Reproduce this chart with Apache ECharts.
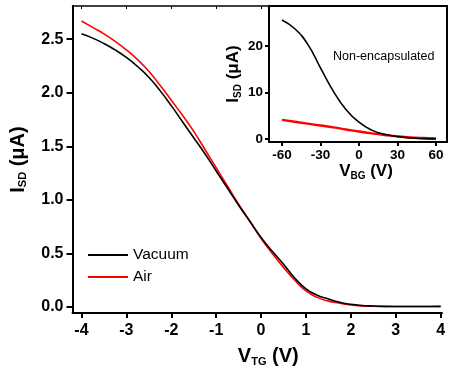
<!DOCTYPE html>
<html>
<head>
<meta charset="utf-8">
<script src="https://cdn.jsdelivr.net/npm/echarts@6/dist/echarts.min.js"></script>
<style>html,body{margin:0;padding:0;background:#fff;}#c{width:449px;height:372px;}</style>
</head>
<body>
<div id="c"></div>
<script>
// Main panel: top-gate sweep
var vtg = [-4.00,-3.75,-3.50,-3.25,-3.00,-2.75,-2.50,-2.25,-2.00,-1.75,-1.50,-1.25,-1.00,-0.75,-0.50,-0.25,0.00,0.25,0.50,0.75,1.00,1.25,1.50,1.75,2.00,2.25,2.50,2.75,3.00,3.25,3.50,3.75,4.00];
var vacuum = [2.55,2.51,2.46,2.40,2.33,2.245,2.145,2.02,1.88,1.73,1.58,1.43,1.27,1.11,0.95,0.80,0.65,0.52,0.40,0.27,0.17,0.11,0.075,0.045,0.025,0.014,0.009,0.006,0.005,0.005,0.005,0.005,0.006];
var air = [2.67,2.61,2.55,2.48,2.40,2.31,2.20,2.07,1.93,1.79,1.64,1.47,1.30,1.13,0.96,0.80,0.64,0.50,0.37,0.25,0.15,0.09,0.055,0.035,0.018,0.010,0.007,0.005,0.004,0.004,0.004,0.004,0.005];
var mainXTicks = [-4,-3,-2,-1,0,1,2,3,4];
var mainYTicks = [0,0.5,1.0,1.5,2.0,2.5];
// Inset: back-gate sweep, non-encapsulated
var vbg = [-60,-50,-40,-30,-20,-10,0,10,20,30,40,50,60];
var insetBlack = [25.6,23.7,20.4,15.3,10.3,6.3,3.6,1.9,1.0,0.52,0.22,0.08,0.02];
var insetRed = [4.1,3.7,3.3,2.9,2.5,2.05,1.6,1.2,0.85,0.55,0.33,0.2,0.12];
var insetXTicks = [-60,-30,0,30,60];
var insetYTicks = [0,10,20];
var seriesNames = ['Vacuum','Air'];

var FONT = 'Liberation Sans, Arial, Helvetica, sans-serif';
function pairs(xs, ys){ return xs.map(function(x,i){return [x, ys[i]];}); }
function fmtMain(v){ return (Math.round(v*10)/10).toFixed(1); }

var chart = echarts.init(document.getElementById('c'), null, {renderer:'canvas'});
var axisLine = {show:true, onZero:false, lineStyle:{color:'#000', width:2}};
var option = {
  animation:false,
  backgroundColor:'#fff',
  grid:[
    {left:72, top:6, width:370, height:307, show:false},
    {left:269, top:6, width:178, height:136, show:true, borderColor:'#000', borderWidth:2, backgroundColor:'#fff', z:5}
  ],
  legend:{
    data:seriesNames, orient:'vertical', left:83, top:242, icon:'rect',
    itemWidth:40, itemHeight:2, itemGap:6,
    textStyle:{fontFamily:FONT, fontSize:15.5, color:'#000'}
  },
  xAxis:[
    {gridIndex:0, type:'value', min:-4.2, max:4.03, position:'bottom',
     axisLine:axisLine, splitLine:{show:false},
     axisTick:{show:true, inside:false, length:5, lineStyle:{width:2,color:'#000'}, customValues:mainXTicks},
     axisLabel:{customValues:mainXTicks, fontFamily:FONT, fontWeight:'bold', fontSize:16, color:'#000', margin:10},
     name:'{b|V}{s|TG}{b| (V)}', nameLocation:'middle', nameGap:33,
     nameTextStyle:{padding:[0,0,0,22], rich:{b:{fontFamily:FONT,fontWeight:'bold',fontSize:20,color:'#000'}, s:{fontFamily:FONT,fontWeight:'bold',fontSize:11,color:'#000',verticalAlign:'bottom',padding:[10,0,0,0]}}}
    },
    {gridIndex:0, type:'value', min:-4.2, max:4.03, position:'top',
     axisLine:{show:true, onZero:false, lineStyle:{color:'#000', width:1.5}}, splitLine:{show:false},
     axisTick:{show:true, inside:true, length:3, lineStyle:{width:1,color:'#000'}, customValues:mainXTicks},
     axisLabel:{show:false}
    },
    {gridIndex:1, type:'value', min:-70.1, max:68.6, position:'bottom',
     axisLine:{show:false, onZero:false}, splitLine:{show:false},
     axisTick:{show:true, inside:false, length:4, lineStyle:{width:2,color:'#000'}, customValues:insetXTicks},
     axisLabel:{customValues:insetXTicks, fontFamily:FONT, fontWeight:'bold', fontSize:13.5, color:'#000', margin:6},
     name:'{b|V}{s|BG}{b| (V)}', nameLocation:'middle', nameGap:14,
     nameTextStyle:{padding:[0,0,0,16], verticalAlign:'top', rich:{b:{fontFamily:FONT,fontWeight:'bold',fontSize:17,color:'#000'}, s:{fontFamily:FONT,fontWeight:'bold',fontSize:10,color:'#000',verticalAlign:'bottom',padding:[9,0,0,0]}}}
    }
  ],
  yAxis:[
    {gridIndex:0, type:'value', min:-0.056, max:2.81, position:'left',
     axisLine:axisLine, splitLine:{show:false},
     axisTick:{show:true, inside:false, length:6, lineStyle:{width:2,color:'#000'}, customValues:mainYTicks},
     axisLabel:{customValues:mainYTicks, formatter:fmtMain, fontFamily:FONT, fontWeight:'bold', fontSize:16, color:'#000', margin:9},
     name:'{b|I}{s|SD}{b| (μA)}', nameLocation:'middle', nameGap:44, nameRotate:90,
     nameTextStyle:{rich:{b:{fontFamily:FONT,fontWeight:'bold',fontSize:20,color:'#000'}, s:{fontFamily:FONT,fontWeight:'bold',fontSize:11,color:'#000',verticalAlign:'bottom',padding:[10,0,0,0]}}}
    },
    {gridIndex:1, type:'value', min:-0.65, max:28.6, position:'left',
     axisLine:{show:false, onZero:false}, splitLine:{show:false},
     axisTick:{show:true, inside:false, length:4, lineStyle:{width:2,color:'#000'}, customValues:insetYTicks},
     axisLabel:{customValues:insetYTicks, fontFamily:FONT, fontWeight:'bold', fontSize:13.5, color:'#000', margin:6},
     name:'{b|I}{s|SD}{b| (μA)}', nameLocation:'middle', nameGap:26, nameRotate:90,
     nameTextStyle:{rich:{b:{fontFamily:FONT,fontWeight:'bold',fontSize:17,color:'#000'}, s:{fontFamily:FONT,fontWeight:'bold',fontSize:10,color:'#000',verticalAlign:'bottom',padding:[9,0,0,0]}}}
    }
  ],
  graphic:[
    {type:'text', left:333, top:50, z:20, style:{text:'Non-encapsulated', fontFamily:FONT, fontSize:12.5, fill:'#000'}}
  ],
  series:[
    {name:seriesNames[0], type:'line', xAxisIndex:0, yAxisIndex:0, data:pairs(vtg, vacuum), showSymbol:false, smooth:true, lineStyle:{color:'#000', width:1.6}, itemStyle:{color:'#000'}, z:3},
    {name:seriesNames[1], type:'line', xAxisIndex:0, yAxisIndex:0, data:pairs(vtg, air), showSymbol:false, smooth:true, lineStyle:{color:'#f00', width:1.6}, itemStyle:{color:'#f00'}, z:2},
    {type:'line', xAxisIndex:2, yAxisIndex:1, data:pairs(vbg, insetBlack), showSymbol:false, smooth:true, lineStyle:{color:'#000', width:1.6}, z:10},
    {type:'line', xAxisIndex:2, yAxisIndex:1, data:pairs(vbg, insetRed), showSymbol:false, smooth:true, lineStyle:{color:'#f00', width:2.4}, z:9}
  ]
};
chart.setOption(option);
</script>
</body>
</html>
